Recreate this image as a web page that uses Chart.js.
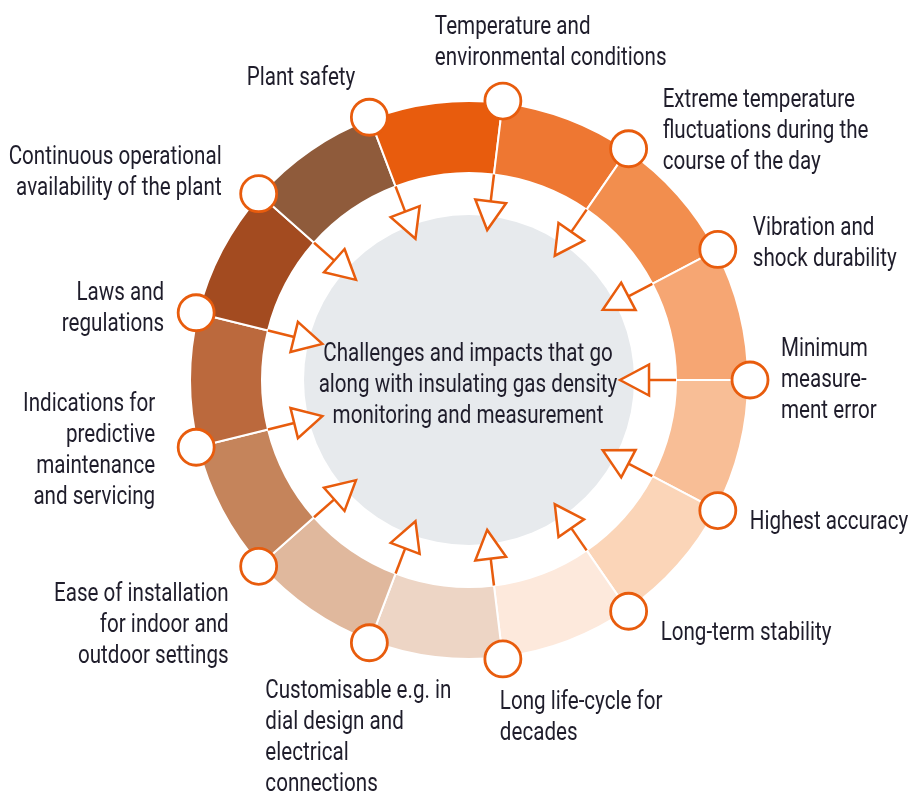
<!DOCTYPE html>
<html>
<head>
<meta charset="utf-8">
<title>Challenges and impacts</title>
<script src="https://cdn.jsdelivr.net/npm/chart.js@4.4.1/dist/chart.umd.min.js"></script>
<style>
  html, body { margin: 0; padding: 0; background: #fff; }
  #wrap { width: 911px; height: 800px; position: relative; }
</style>
</head>
<body>
<div id="wrap"><canvas id="ringChart"></canvas></div>
<script>
// one entry per segment, clockwise starting at the "Minimum measurement error" marker (3 o'clock)
const labels = [
    ['Minimum', 'measure-', 'ment error'],
    ['Highest accuracy'],
    ['Long-term stability'],
    ['Long life-cycle for', 'decades'],
    ['Customisable e.g. in', 'dial design and', 'electrical', 'connections'],
    ['Ease of installation', 'for indoor and', 'outdoor settings'],
    ['Indications for', 'predictive', 'maintenance', 'and servicing'],
    ['Laws and', 'regulations'],
    ['Continuous operational', 'availability of the plant'],
    ['Plant safety'],
    ['Temperature and', 'environmental conditions'],
    ['Extreme temperature', 'fluctuations during the', 'course of the day'],
    ['Vibration and', 'shock durability']
];
// every segment has the same share of the ring
const shares = [1, 1, 1, 1, 1, 1, 1, 1, 1, 1, 1, 1, 1];
const centerText = [
    'Challenges and impacts that go',
    'along with insulating gas density',
    'monitoring and measurement'
];

const segmentColors = [
    '#F8BE96', '#FBD5B8', '#FDE9DC', '#EDD5C5', '#E0B89D', '#C5845B', '#BB693D',
    '#A34B20', '#8F5B3B', '#E85C0D', '#EE7732', '#F28E4E', '#F6A673'
];

// label placement relative to each marker: offset and text alignment
const labelLayout = [
    { dx: 31, dy: -32, align: 'left' },
    { dx: 32, dy: 10, align: 'left' },
    { dx: 32, dy: 20, align: 'left' },
    { dx: -3, dy: 42, align: 'left' },
    { dx: -104, dy: 47, align: 'left' },
    { dx: -30, dy: 26, align: 'right' },
    { dx: -41, dy: -44, align: 'right' },
    { dx: -32, dy: -21, align: 'right' },
    { dx: -37, dy: -38, align: 'right' },
    { dx: -14, dy: -41, align: 'right' },
    { dx: -68, dy: -75, align: 'left' },
    { dx: 34, dy: -50, align: 'left' },
    { dx: 35, dy: -23, align: 'left' }
];

const ORANGE = '#E85C0D';
const TEXT_COLOR = '#1F1D2B';
const FONT = "25px Roboto, 'Noto Sans', sans-serif";
const LINE_H = 31;
const TEXT_NUDGE = 2; // 'middle' baseline sits a bit high for this face
// the original uses a condensed face; squeeze the text to the same width
const REF_LINE = 'Continuous operational';
const REF_WIDTH = 213;

function drawLine(ctx, txt, x, y, align, sx) {
    ctx.save();
    ctx.translate(x, y + TEXT_NUDGE);
    ctx.scale(sx, 1);
    ctx.textAlign = align;
    ctx.fillText(txt, 0, 0);
    ctx.restore();
}

const ringDecor = {
    id: 'ringDecor',
    beforeDatasetsDraw(chart) {
        const arc = chart.getDatasetMeta(0).data[0];
        if (!arc) return;
        const ctx = chart.ctx;
        ctx.save();
        ctx.fillStyle = '#E7EAED';
        ctx.beginPath();
        ctx.arc(arc.x, arc.y, arc.innerRadius * 0.797, 0, Math.PI * 2);
        ctx.fill();
        ctx.restore();
    },
    afterDatasetsDraw(chart) {
        const arcs = chart.getDatasetMeta(0).data;
        if (!arcs.length) return;
        const ctx = chart.ctx;
        const cx = arcs[0].x, cy = arcs[0].y;
        const rIn = arcs[0].innerRadius;
        const rOut = arcs[0].outerRadius;
        const rBase = rIn - 27;
        const rTip = rIn - 56;
        const halfW = 15.5;

        ctx.save();
        ctx.font = FONT;
        const sx = REF_WIDTH / ctx.measureText(REF_LINE).width;
        ctx.lineJoin = 'miter';
        arcs.forEach((a, i) => {
            const ang = a.startAngle;
            const ux = Math.cos(ang), uy = Math.sin(ang);
            const px = -uy, py = ux;

            // orange stem inside the white gap
            ctx.strokeStyle = ORANGE;
            ctx.lineWidth = 2.5;
            ctx.beginPath();
            ctx.moveTo(cx + ux * rIn, cy + uy * rIn);
            ctx.lineTo(cx + ux * rBase, cy + uy * rBase);
            ctx.stroke();

            // open arrow head
            ctx.fillStyle = '#fff';
            ctx.beginPath();
            ctx.moveTo(cx + ux * rBase + px * halfW, cy + uy * rBase + py * halfW);
            ctx.lineTo(cx + ux * rTip, cy + uy * rTip);
            ctx.lineTo(cx + ux * rBase - px * halfW, cy + uy * rBase - py * halfW);
            ctx.closePath();
            ctx.fill();
            ctx.stroke();

            // marker on the outer edge
            const mx = cx + ux * (rOut + 2), my = cy + uy * (rOut + 2);
            ctx.beginPath();
            ctx.arc(mx, my, 18, 0, Math.PI * 2);
            ctx.fill();
            ctx.lineWidth = 2.8;
            ctx.stroke();

            // label
            const lay = labelLayout[i];
            ctx.fillStyle = TEXT_COLOR;
            ctx.textBaseline = 'middle';
            labels[i].forEach((line, k) => {
                drawLine(ctx, line, mx + lay.dx, my + lay.dy + k * LINE_H, lay.align, sx);
            });
        });

        // centre caption
        ctx.fillStyle = TEXT_COLOR;
        ctx.textBaseline = 'middle';
        centerText.forEach((line, k) => {
            drawLine(ctx, line, cx - 1, cy - 27 + k * LINE_H, 'center', sx);
        });
        ctx.restore();
    }
};

new Chart(document.getElementById('ringChart'), {
    type: 'doughnut',
    data: {
        labels: labels.map(l => l.join(' ')),
        datasets: [{
            data: shares,
            backgroundColor: segmentColors,
            borderColor: '#fff',
            borderWidth: 2,
            hoverOffset: 0
        }]
    },
    options: {
        responsive: true,
        maintainAspectRatio: false,
        animation: false,
        rotation: 90,
        radius: 279,
        cutout: '74.2%',
        layout: { padding: { left: 190, right: 163, top: 101, bottom: 141 } },
        plugins: {
            legend: { display: false },
            tooltip: { enabled: false }
        },
        events: []
    },
    plugins: [ringDecor]
});
</script>
</body>
</html>
